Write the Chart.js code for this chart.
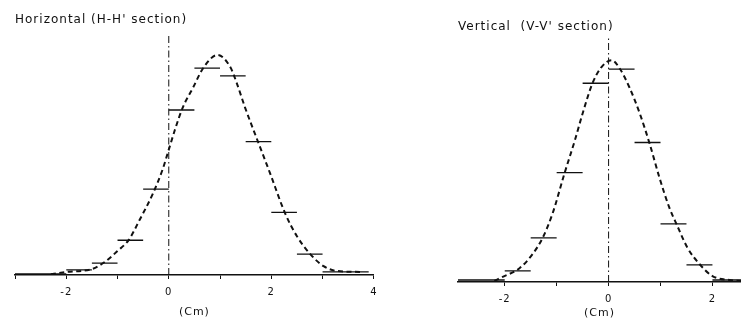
<!DOCTYPE html>
<html>
<head>
<meta charset="utf-8">
<script src="https://cdn.jsdelivr.net/npm/chart.js@4"></script>
<style>
	html, body { margin: 0; padding: 0; background: #ffffff; }
	#wrap { position: relative; width: 741px; height: 323px; overflow: hidden; }
	canvas { position: absolute; top: 0; }
	#chartH { left: 0; }
	#chartV { left: 380px; }
</style>
</head>
<body>
<div id="wrap">
	<canvas id="chartH" width="384" height="323"></canvas>
	<canvas id="chartV" width="361" height="323"></canvas>
</div>
<script>
// Horizontal (H-H') section : fitted curve + measured profile
var hCurveX = [-2.3, -2.0, -1.5, -1.25, -1.0, -0.78, -0.57, -0.31, -0.12, 0, 0.12, 0.27, 0.47, 0.67, 0.95, 1.2, 1.33, 1.49, 1.75, 1.98, 2.27, 2.5, 2.76, 3.02, 3.29, 3.75];
var hCurveY = [0.4, 1.4, 2.7, 5.9, 10.9, 16, 25, 37, 48, 57, 66, 76, 85, 94, 100, 94.5, 87, 76, 60, 46, 28, 17.6, 9.5, 4, 1.8, 1.4];
var hBinEdges = [-3, -2, -1.5, -1, -0.5, 0, 0.5, 1, 1.5, 2, 2.5, 3, 3.9];
var hBinCounts = [0.5, 2.3, 5.4, 15.8, 39, 75, 94, 90.5, 60.6, 28.5, 9.5, 1.4];
var hTickLabels = [-2, 0, 2, 4];

// Vertical (V-V') section
var vCurveX = [-2.2, -2.04, -1.71, -1.46, -1.27, -1.08, -0.85, -0.65, -0.5, -0.31, -0.14, 0.06, 0.21, 0.4, 0.6, 0.79, 0.98, 1.17, 1.31, 1.52, 1.75, 2.0, 2.33, 2.55];
var vCurveY = [0.5, 2.3, 6.3, 12.7, 19.9, 30.8, 48.9, 63.8, 76, 89.6, 96.8, 100, 96.4, 87.8, 76, 62.4, 47, 33.5, 26, 15.4, 8.1, 2.7, 0.9, 0.5];
var vBinEdges = [-2.9, -2, -1.5, -1, -0.5, 0, 0.5, 1, 1.5, 2, 2.55];
var vBinCounts = [0.9, 5, 19.9, 49.3, 89.6, 96, 62.9, 26.2, 7.7, 0.9];
var vTickLabels = [-2, 0, 2];

// centre line (x = 0)
var centreLineY = [0, 110];

var INK = '#111111';

// lettrage espacé, comme le traceur d'origine
var spacedText = {
	id: 'spacedText',
	beforeDraw: function(chart) { chart.ctx.letterSpacing = '1px'; },
	afterDraw: function(chart) { chart.ctx.letterSpacing = '0px'; }
};

function curvePoints(xs, ys)
{
	return xs.map(function(x, i) { return {x: x, y: ys[i]}; });
}

function binSegments(edges, counts)
{
	var pts = [];
	for (var i = 0; i < counts.length; i++) {
		pts.push({x: edges[i], y: counts[i]});
		pts.push({x: edges[i + 1], y: counts[i]});
		pts.push({x: edges[i + 1], y: null}); // coupure entre paliers
	}
	return pts;
}

function makeChart(id, p)
{
	var ctx = document.getElementById(id).getContext('2d');

	return new Chart(ctx, {
		type: 'line',
		data: {
			datasets: [
			{
				data: curvePoints(p.curveX, p.curveY),
				borderColor: INK,
				borderWidth: 2,
				borderDash: [5, 3.5],
				cubicInterpolationMode: 'monotone',
				pointRadius: 0,
				fill: false
			},
			{
				data: binSegments(p.binEdges, p.binCounts),
				borderColor: INK,
				borderWidth: 1.3,
				pointRadius: 0,
				spanGaps: false,
				fill: false
			},
			{
				data: centreLineY.map(function(y) { return {x: 0, y: y}; }),
				borderColor: INK,
				borderWidth: 1,
				borderDash: [7, 3, 1.5, 3],
				pointRadius: 0,
				fill: false
			}]
		},
		options: {
			responsive: false,
			animation: false,
			devicePixelRatio: 1,
			layout: {
				padding: p.padding
			},
			scales: {
				x: {
					type: 'linear',
					min: p.xmin,
					max: p.xmax,
					grid: {
						drawOnChartArea: false,
						drawTicks: true,
						tickLength: 4,
						color: INK,
						lineWidth: 1
					},
					border: {
						display: true,
						color: INK,
						width: 1.5
					},
					ticks: {
						stepSize: 1,
						includeBounds: false,
						autoSkip: false,
						maxRotation: 0,
						padding: 7,
						color: INK,
						font: { family: 'DejaVu Sans', size: 10 },
						callback: function(value) {
							return p.tickLabels.indexOf(value) >= 0 ? String(value) : '';
						}
					},
					title: {
						display: true,
						text: '(Cm)',
						color: INK,
						font: { family: 'DejaVu Sans', size: 11 },
						padding: p.axisTitlePadding
					}
				},
				y: {
					display: false,
					min: 0,
					max: 110
				}
			},
			plugins: {
				legend: { display: false },
				tooltip: { enabled: false },
				title: {
					display: true,
					text: p.title,
					align: 'start',
					color: INK,
					font: { family: 'DejaVu Sans', size: 12, weight: 'normal' },
					padding: p.titlePadding
				}
			}
		},
		plugins: [spacedText]
	});
}

makeChart('chartH', {
	title: "Horizontal (H-H' section)",
	curveX: hCurveX, curveY: hCurveY,
	binEdges: hBinEdges, binCounts: hBinCounts,
	tickLabels: hTickLabels,
	xmin: -3, xmax: 4,
	padding: {left: 15, right: 0, top: 0, bottom: 4.4},
	titlePadding: {top: 12.8, bottom: 5.8},
	axisTitlePadding: {top: 0.4, bottom: 0}
});

makeChart('chartV', {
	title: "Vertical  (V-V' section)",
	curveX: vCurveX, curveY: vCurveY,
	binEdges: vBinEdges, binCounts: vBinCounts,
	tickLabels: vTickLabels,
	xmin: -2.9, xmax: 2.55,
	padding: {left: 78, right: 0, top: 0, bottom: 3.4},
	titlePadding: {top: 19.8, bottom: 3.8},
	axisTitlePadding: {top: -5.6, bottom: 0}
});
</script>
</body>
</html>
